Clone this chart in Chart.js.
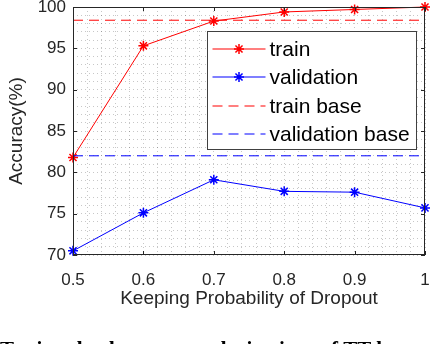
<!DOCTYPE html>
<html>
<head>
<meta charset="utf-8">
<script src="https://cdn.jsdelivr.net/npm/chart.js@4/dist/chart.umd.min.js"></script>
<style>
  html, body { margin: 0; padding: 0; background: #fff; overflow: hidden; }
  canvas { display: block; }
</style>
</head>
<body>
<canvas id="chart" width="432" height="344"></canvas>
<script>
// values
const keepProb = [0.5, 0.6, 0.7, 0.8, 0.9, 1.0];
const trainAcc = [81.8, 95.3, 98.3, 99.4, 99.7, 100.0];
const valAcc = [70.5, 75.1, 79.1, 77.7, 77.6, 75.7];
const trainBase = 98.4;
const valBase = 82.0;
const yTicks = [70, 75, 80, 85, 90, 95, 100];
const xTicks = [0.5, 0.6, 0.7, 0.8, 0.9, 1];
const caption = 'Testing the dropout regularizations of TT-layers';

const axisColor = '#262626';
const gridColor = 'rgba(0,0,0,0.22)';
const sans = '"Liberation Sans", Arial, sans-serif';

function pts(xs, ys) {
    return xs.map((x, i) => ({ x: x, y: ys[i] }));
}

function baseLine(v) {
    return [{ x: keepProb[0], y: v }, { x: keepProb[keepProb.length - 1], y: v }];
}

const legendItems = [
    { label: 'train', color: '#ff0000', dash: [], marker: true },
    { label: 'validation', color: '#0000ff', dash: [], marker: true },
    { label: 'train base', color: '#ff0000', dash: [10, 6], marker: false },
    { label: 'validation base', color: '#0000ff', dash: [10, 6], marker: false }
];

// MATLAB style box, inward ticks, legend and the cut-off caption
const boxPlugin = {
    id: 'boxPlugin',
    afterDraw(chart) {
        const ctx = chart.ctx;
        const a = chart.chartArea;
        const xs = chart.scales.x, ys = chart.scales.y;
        ctx.save();
        ctx.strokeStyle = axisColor;
        ctx.lineWidth = 1;
        ctx.setLineDash([]);
        ctx.strokeRect(a.left + 0.5, a.top + 0.5, a.right - a.left - 1, a.bottom - a.top - 1);
        const tl = 4;
        ctx.beginPath();
        xTicks.forEach(v => {
            const px = Math.round(xs.getPixelForValue(v)) + 0.5;
            ctx.moveTo(px, a.bottom); ctx.lineTo(px, a.bottom - tl);
            ctx.moveTo(px, a.top); ctx.lineTo(px, a.top + tl);
        });
        yTicks.forEach(v => {
            const py = Math.round(ys.getPixelForValue(v)) + 0.5;
            ctx.moveTo(a.left, py); ctx.lineTo(a.left + tl, py);
            ctx.moveTo(a.right, py); ctx.lineTo(a.right - tl, py);
        });
        ctx.stroke();
        ctx.restore();

        // legend box
        const lx = a.left + 134.5, ly = a.top + 24.5, lw = 209, lh = 118;
        ctx.save();
        ctx.fillStyle = '#fff';
        ctx.fillRect(lx, ly, lw, lh);
        ctx.strokeStyle = '#404040';
        ctx.lineWidth = 1;
        ctx.strokeRect(lx, ly, lw, lh);
        ctx.restore();
        legendItems.forEach((it, i) => {
            const ry = Math.round(ly + 17 + i * 28.5);
            ctx.save();
            ctx.strokeStyle = it.color;
            ctx.lineWidth = 1.2;
            ctx.setLineDash(it.dash);
            ctx.beginPath();
            ctx.moveTo(lx + 5, ry);
            ctx.lineTo(lx + 58, ry);
            ctx.stroke();
            ctx.restore();
            if (it.marker) {
                ctx.save();
                ctx.strokeStyle = it.color;
                ctx.fillStyle = it.color;
                ctx.lineWidth = 1.5;
                Chart.helpers.drawPoint(ctx, { pointStyle: 'star', radius: 5, borderWidth: 1.5 }, lx + 31.5, ry);
                ctx.restore();
            }
            ctx.save();
            ctx.fillStyle = '#000';
            ctx.font = '21px ' + sans;
            ctx.textBaseline = 'middle';
            ctx.fillText(it.label, lx + 62, ry + 1);
            ctx.restore();
        });

        // caption of the paper figure, cut off by the image edge
        ctx.save();
        ctx.fillStyle = '#000';
        ctx.font = 'bold 21px "Liberation Serif", serif';
        ctx.textBaseline = 'alphabetic';
        ctx.fillText(caption, 0, 356);
        ctx.restore();
    }
};

const ctx = document.getElementById('chart').getContext('2d');
new Chart(ctx, {
    type: 'line',
    data: {
        datasets: [
            {
                label: 'train base',
                data: baseLine(trainBase),
                borderColor: '#ff0000',
                borderWidth: 1,
                borderDash: [10, 6],
                pointRadius: 0
            },
            {
                label: 'validation base',
                data: baseLine(valBase),
                borderColor: '#0000ff',
                borderWidth: 1,
                borderDash: [10, 6],
                pointRadius: 0
            },
            {
                label: 'train',
                data: pts(keepProb, trainAcc),
                borderColor: '#ff0000',
                backgroundColor: '#ff0000',
                borderWidth: 1,
                pointStyle: 'star',
                pointRadius: 5,
                pointBorderWidth: 1.5
            },
            {
                label: 'validation',
                data: pts(keepProb, valAcc),
                borderColor: '#0000ff',
                backgroundColor: '#0000ff',
                borderWidth: 1,
                pointStyle: 'star',
                pointRadius: 5,
                pointBorderWidth: 1.5
            }
        ]
    },
    options: {
        responsive: false,
        animation: false,
        clip: false,
        layout: { padding: { left: 0, right: 7, top: 7, bottom: 34 } },
        plugins: {
            legend: { display: false },
            tooltip: { enabled: false }
        },
        scales: {
            x: {
                type: 'linear',
                min: 0.5,
                max: 1,
                afterBuildTicks(scale) {
                    const t = [];
                    for (let i = 0; i <= 25; i++) t.push({ value: 0.5 + i * 0.02 });
                    scale.ticks = t;
                },
                afterFit(scale) {
                    scale.height = 55;
                    scale.paddingLeft = 0;
                    scale.paddingRight = 0;
                },
                ticks: {
                    autoSkip: false,
                    maxRotation: 0,
                    padding: 15,
                    color: axisColor,
                    font: { family: sans, size: 17 },
                    callback(v) {
                        const r = Math.round(v * 10);
                        return Math.abs(v * 10 - r) < 1e-6 ? String(r / 10) : '';
                    }
                },
                grid: { color: gridColor, lineWidth: 1, drawTicks: false },
                border: { display: false, dash: [1, 3] },
                title: {
                    display: true,
                    text: 'Keeping Probability of Dropout',
                    color: axisColor,
                    font: { family: sans, size: 19 },
                    padding: { top: 2, bottom: 0 }
                }
            },
            y: {
                type: 'linear',
                min: 70,
                max: 100,
                afterBuildTicks(scale) {
                    const t = [];
                    for (let v = 70; v <= 100; v++) t.push({ value: v });
                    scale.ticks = t;
                },
                afterFit(scale) {
                    scale.width = 73;
                    scale.paddingTop = 0;
                    scale.paddingBottom = 0;
                },
                ticks: {
                    autoSkip: false,
                    padding: 7,
                    color: axisColor,
                    font: { family: sans, size: 17 },
                    callback(v) { return yTicks.includes(v) ? String(v) : ''; }
                },
                grid: { color: gridColor, lineWidth: 1, drawTicks: false },
                border: { display: false, dash: [1, 3] },
                title: {
                    display: true,
                    text: 'Accuracy(%)',
                    color: axisColor,
                    font: { family: sans, size: 19 },
                    padding: { top: 5, bottom: 0 }
                }
            }
        }
    },
    plugins: [boxPlugin]
});
</script>
</body>
</html>
